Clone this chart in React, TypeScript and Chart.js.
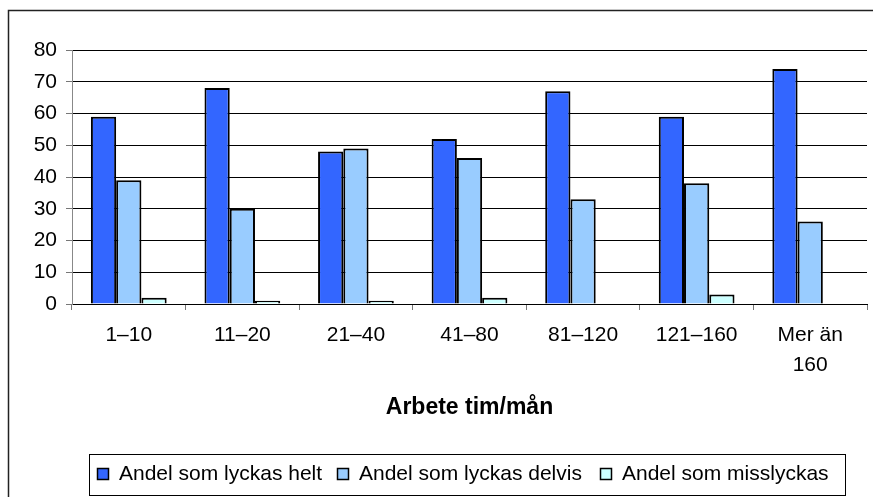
import React, { useEffect, useRef } from "react";
import { Chart, registerables } from "chart.js";

Chart.register(...registerables);

const categories: (string | string[])[] = ["1–10", "11–20", "21–40", "41–80", "81–120", "121–160", ["Mer än", "160"]];
const seriesNames = ["Andel som lyckas helt", "Andel som lyckas delvis", "Andel som misslyckas"];
const helt = [59, 68, 48, 52, 67, 59, 74];
const delvis = [39, 30, 49, 46, 33, 38, 26];
const misslyckas = [2, 1, 1, 2, 0, 3, 0];
const colors = ["#3366FF", "#99CCFF", "#CCFFFF"];
const yTicks = [0, 10, 20, 30, 40, 50, 60, 70, 80];
const axisTitle = "Arbete tim/mån";

const FONT = "'Liberation Sans', Arial, sans-serif";

const framePlugin = {
  id: "frame",
  beforeDraw(chart: any) {
    const ctx = chart.ctx;
    ctx.save();
    ctx.fillStyle = "#fff";
    ctx.fillRect(0, 0, chart.width, chart.height);
    ctx.strokeStyle = "#222";
    ctx.lineWidth = 1.5;
    ctx.beginPath();
    ctx.moveTo(8.5, chart.height + 2);
    ctx.lineTo(8.5, 10.5);
    ctx.lineTo(chart.width + 2, 10.5);
    ctx.stroke();
    ctx.restore();
  },
};

const legendPlugin = {
  id: "customLegend",
  afterDraw(chart: any) {
    const ctx = chart.ctx;
    ctx.save();
    ctx.strokeStyle = "#000";
    ctx.lineWidth = 1;
    ctx.strokeRect(89.5, 454.5, 756, 41);
    const boxX = [97, 337, 600];
    ctx.font = `21px ${FONT}`;
    ctx.textBaseline = "middle";
    ctx.textAlign = "left";
    chart.data.datasets.forEach((ds: any, i: number) => {
      ctx.fillStyle = ds.backgroundColor;
      ctx.fillRect(boxX[i] + 0.5, 468.5, 11, 11);
      ctx.strokeStyle = "#000";
      ctx.lineWidth = 1.5;
      ctx.strokeRect(boxX[i] + 0.5, 468.5, 11, 11);
      ctx.fillStyle = "#000";
      ctx.fillText(ds.label, boxX[i] + 22, 474);
    });
    ctx.restore();
  },
};

export default function App() {
  const ref = useRef<HTMLCanvasElement>(null);
  useEffect(() => {
    if (!ref.current) return;
    const mk = (label: string, data: number[], color: string) => ({
      label,
      data,
      backgroundColor: color,
      borderColor: "#000",
      borderWidth: 2,
      categoryPercentage: 0.667,
      barPercentage: 1.0,
    });
    const chart = new Chart(ref.current, {
      type: "bar",
      data: {
        labels: categories,
        datasets: [
          mk(seriesNames[0], helt, colors[0]),
          mk(seriesNames[1], delvis, colors[1]),
          mk(seriesNames[2], misslyckas, colors[2]),
        ],
      },
      options: {
        animation: false,
        responsive: false,
        layout: { padding: { left: 0, right: 6, top: 50, bottom: 60 } },
        plugins: { legend: { display: false }, tooltip: { enabled: false } },
        scales: {
          x: {
            afterFit: (s: any) => {
              s.height = 133;
            },
            grid: {
              display: true,
              drawOnChartArea: false,
              offset: true,
              tickLength: 6,
              tickColor: "#777",
            },
            border: { color: "#000", width: 1 },
            ticks: {
              color: "#000",
              padding: 10,
              maxRotation: 0,
              autoSkip: false,
              font: { family: FONT, size: 21, lineHeight: 30 / 21 },
            },
            title: {
              display: true,
              text: axisTitle,
              color: "#000",
              font: { family: FONT, size: 23, weight: "bold", lineHeight: 1.2 },
              padding: { top: 0, bottom: 16 },
            },
          },
          y: {
            min: yTicks[0],
            max: yTicks[yTicks.length - 1],
            afterFit: (s: any) => {
              s.width = 72;
            },
            afterBuildTicks: (s: any) => {
              s.ticks = yTicks.map((v) => ({ value: v }));
            },
            grid: { color: "#000", lineWidth: 1, tickLength: 6, tickColor: "#777" },
            border: { color: "#888", width: 1 },
            ticks: {
              color: "#000",
              padding: 9,
              font: { family: FONT, size: 21 },
            },
          },
        },
      },
      plugins: [framePlugin, legendPlugin],
    });
    return () => chart.destroy();
  }, []);
  return (
    <canvas
      ref={ref}
      width={873}
      height={497}
      style={{ position: "fixed", left: 0, top: 0, width: 873, height: 497 }}
    />
  );
}
